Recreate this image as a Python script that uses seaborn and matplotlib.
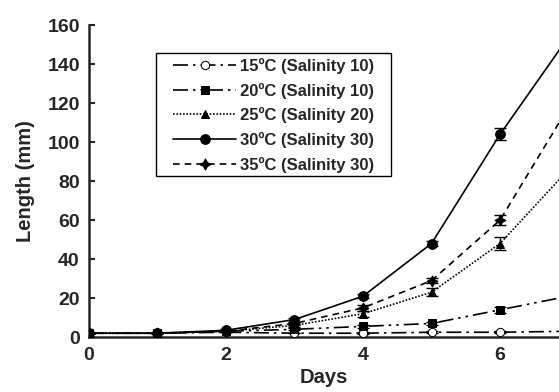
import matplotlib
matplotlib.use("Agg")
import matplotlib.pyplot as plt
from matplotlib.patches import Rectangle
import seaborn as sns
import numpy as np

days = [0, 1, 2, 3, 4, 5, 6, 7]
labels = ["15ºC (Salinity 10)", "20ºC (Salinity 10)", "25ºC (Salinity 20)",
          "30ºC (Salinity 30)", "35ºC (Salinity 30)"]
len_15 = [2, 2, 2.5, 2, 2, 2.5, 2.5, 3]
len_20 = [2, 2, 3, 4, 5.5, 7, 14, 21]
len_25 = [2, 2, 3, 6, 12, 23, 48, 86]
len_30 = [2, 2, 3.5, 9, 21, 48, 104, 154]
len_35 = [2, 2, 3, 7, 15, 29, 60, 118]
err_15 = [0, 0, 0, 0, 0.5, 0.5, 0.5, 0.5]
err_20 = [0, 0, 0, 0.5, 0.8, 1, 1.5, 2]
err_25 = [0, 0, 0, 0.8, 1.5, 2, 3.5, 4]
err_30 = [0, 0, 0.5, 1, 1, 1.5, 3, 4]
err_35 = [0, 0, 0, 1, 1.5, 1.5, 2.5, 4]

sns.set_style("ticks")
plt.rcParams['font.family'] = ['Liberation Sans', 'DejaVu Sans']
plt.rcParams['font.weight'] = 'bold'

fig = plt.figure(figsize=(5.59, 3.92), dpi=100)
ax = fig.add_axes([0.159, 0.140, 0.841, 0.796])

series = [len_15, len_20, len_25, len_30, len_35]
errs = [err_15, err_20, err_25, err_30, err_35]
styles = [(0, (9, 3, 1.5, 3)), (0, (9, 3, 1.5, 3, 1.5, 3)), (0, (1, 1)), '-', (0, (4, 3))]
markers = ['o', 's', '^', 'o', (4, 1, 0)]
mfc = ['white', 'k', 'k', 'k', 'k']
msz = [6, 6, 6, 7, 8]

for vals, er, lab, ls, mk, fc, ms in zip(series, errs, labels, styles, markers, mfc, msz):
    ax.errorbar(days, vals, yerr=er, fmt='none', ecolor='k', elinewidth=1, capsize=4, capthick=1, zorder=2)
    sns.lineplot(x=days, y=vals, ax=ax, color='k', linestyle=ls, marker=mk,
                 markerfacecolor=fc, markeredgecolor='k', markersize=ms,
                 linewidth=1.2, label=lab, zorder=3, clip_on=True)

ax.set_xlim(0, 6.86)
ax.set_ylim(0, 160)
ax.set_xticks([0, 2, 4, 6])
ax.set_yticks(np.arange(0, 161, 20))
ax.tick_params(axis='x', length=0, labelsize=14, pad=7)
ax.tick_params(axis='y', direction='in', length=4.5, width=1.5, labelsize=14, pad=6.5)
for lbl in ax.get_xticklabels() + ax.get_yticklabels():
    lbl.set_fontweight('bold')
ax.spines['left'].set_linewidth(1.8)
ax.spines['bottom'].set_linewidth(1.8)
ax.spines['top'].set_visible(False)
ax.spines['right'].set_visible(False)
ax.set_xlabel("Days", fontsize=14.5, fontweight='bold', labelpad=3)
ax.set_ylabel("Length (mm)", fontsize=14.5, fontweight='bold', labelpad=9)

# legend box frame
ax.add_patch(Rectangle((0.1426, 0.516), 0.5, 0.394, transform=ax.transAxes,
                       fill=False, edgecolor='k', linewidth=1, zorder=5, clip_on=False))
leg = ax.legend(loc='upper left', bbox_to_anchor=(0.1787, 0.895), borderaxespad=0,
                frameon=False, handlelength=3.8, prop={'weight': 'bold', 'size': 12},
                labelspacing=0.52, borderpad=0, handletextpad=0.25)

fig.savefig("out.png", dpi=100)
